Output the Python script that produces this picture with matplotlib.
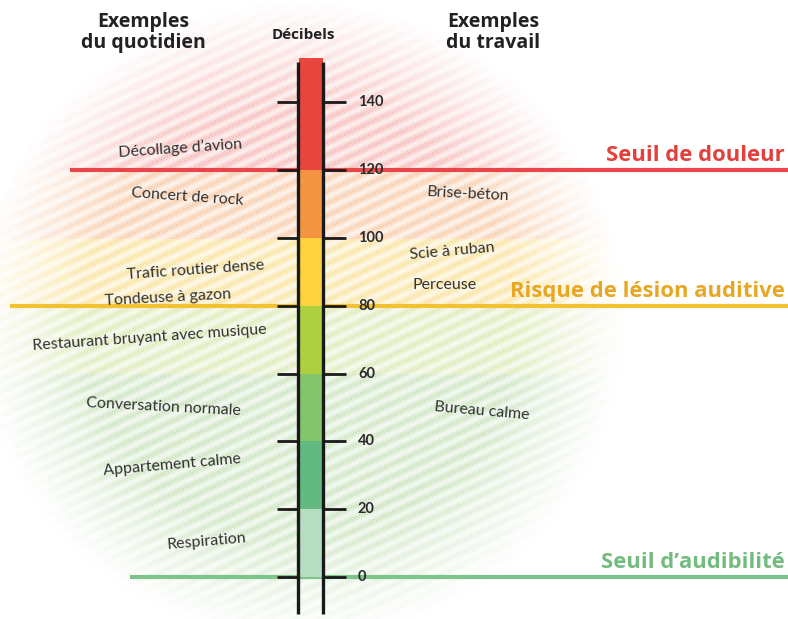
import numpy as np
import matplotlib

matplotlib.use("Agg")
import matplotlib.pyplot as plt

plt.rcParams["font.family"] = ["Lato", "DejaVu Sans"]

# scale segments (dB) and their colours
seg_bottoms = [0, 20, 40, 60, 80, 100, 120]
seg_tops = [20, 40, 60, 80, 100, 120, 153]
seg_colors = ["#b6dcc2", "#62ba80", "#84c56c", "#acd040", "#fdd23c", "#f39442", "#e8453d"]
tick_values = [0, 20, 40, 60, 80, 100, 120, 140]

# everyday examples (left) and work examples (right)
daily_labels = ["Décollage d’avion", "Concert de rock", "Trafic routier dense",
                "Tondeuse à gazon", "Restaurant bruyant avec musique",
                "Conversation normale", "Appartement calme", "Respiration"]
daily_db = [126.5, 112, 90.5, 82.5, 70.5, 50, 33, 10.5]
daily_rot = [4, -4, 4, 3, 4, -3, 5, 5]
daily_x = [180, 187, 195, 168, 150, 163, 172, 207]

work_labels = ["Brise-béton", "Scie à ruban", "Perceuse", "Bureau calme"]
work_db = [113, 96, 86, 49]
work_rot = [-3, 5, 0, -5]
work_x = [468, 452, 445, 482]

# threshold lines
thr_labels = ["Seuil de douleur", "Risque de lésion auditive", "Seuil d’audibilité"]
thr_db = [120, 80, 0]
thr_xstart = [70, 10, 130]
thr_line_colors = ["#e8464a", "#f3c232", "#7cc48a"]
thr_text_colors = ["#e2403c", "#e8a623", "#74bb80"]

W, H = 788, 619
PX_PER_DB = 3.39
ZERO_ROW = 577
y_top = ZERO_ROW / PX_PER_DB
y_bot = (ZERO_ROW - H) / PX_PER_DB

fig = plt.figure(figsize=(W / 100, H / 100), dpi=100)
ax = fig.add_axes([0, 0, 1, 1])
ax.set_xlim(0, W)
ax.set_ylim(y_bot, y_top)
ax.axis("off")

# coloured-pencil style background
rows, cols = np.mgrid[0:H, 0:W]
db = (ZERO_ROW - rows) / PX_PER_DB
bg_palette = np.array([matplotlib.colors.to_rgb(c) for c in
                       ["#b3d8a2", "#b3d8a2", "#b3d8a2", "#cde196", "#f8d670", "#f5b482", "#f29c98"]])
band = np.clip(np.digitize(db, seg_bottoms) - 1, 0, len(seg_bottoms) - 1)
rgb = bg_palette[band]
r = np.hypot((cols - 300) / 310, (rows - 320) / 305)
fade = np.clip((1.05 - r) / 0.35, 0, 1)
ang = np.deg2rad(25)
phase = cols * np.sin(ang) + rows * np.cos(ang)
stripes = 0.5 + 0.5 * np.sin(2 * np.pi * phase / 11)
grain = 0.6 + 0.4 * np.sin(2 * np.pi * (cols * np.cos(ang) - rows * np.sin(ang)) / 3.3) \
    * np.sin(2 * np.pi * phase / 4.1)
alpha = fade * (0.18 + 0.6 * stripes * grain)
img = np.dstack([rgb, np.clip(alpha, 0, 1)])
ax.imshow(img, extent=(0, W, y_bot, y_top), origin="upper", aspect="auto", zorder=0)

# threshold lines
for yv, x0, c in zip(thr_db, thr_xstart, thr_line_colors):
    ax.hlines(yv, x0, W, color=c, lw=3, zorder=2)

# coloured scale
for b, t, c in zip(seg_bottoms, seg_tops, seg_colors):
    ax.bar(311, t - b, bottom=b, width=24, color=c, edgecolor="none", zorder=3)

# column borders and ticks
ax.vlines([298.5, 323.5], -11, 152, color="#1a1a1a", lw=2.4, zorder=4)
for v in tick_values:
    ax.hlines(v, 277, 298, color="#1a1a1a", lw=2, zorder=4)
    ax.hlines(v, 324, 346, color="#1a1a1a", lw=2, zorder=4)
    ax.text(358, v, str(v), ha="left", va="center", fontsize=10.5,
            fontweight="bold", color="#2a2a2a", zorder=5)

# example labels
for lab, yv, x, rot in zip(daily_labels, daily_db, daily_x, daily_rot):
    ax.text(x, yv, lab, ha="center", va="center", rotation=rot,
            fontsize=11.5, color="#333333", zorder=5)
for lab, yv, x, rot in zip(work_labels, work_db, work_x, work_rot):
    ax.text(x, yv, lab, ha="center", va="center", rotation=rot,
            fontsize=11.5, color="#333333", zorder=5)

# threshold labels
for lab, yv, c in zip(thr_labels, thr_db, thr_text_colors):
    ax.text(785, yv + 1.2, lab, ha="right", va="bottom", fontsize=15.8,
            fontweight="bold", color=c, family=["Open Sans", "DejaVu Sans"], zorder=5)

# headers
head_font = ["Open Sans", "DejaVu Sans"]
ax.text(143, y_top - 9.6, "Exemples\ndu quotidien", ha="center", va="center",
        fontsize=14, fontweight="bold", color="#222222", linespacing=1.1,
        family=head_font)
ax.text(493, y_top - 9.6, "Exemples\ndu travail", ha="center", va="center",
        fontsize=14, fontweight="bold", color="#222222", linespacing=1.1,
        family=head_font)
ax.text(303, y_top - 10.3, "Décibels", ha="center", va="center",
        fontsize=11, fontweight="bold", color="#222222", family=head_font)

fig.savefig("out.png", dpi=100)
